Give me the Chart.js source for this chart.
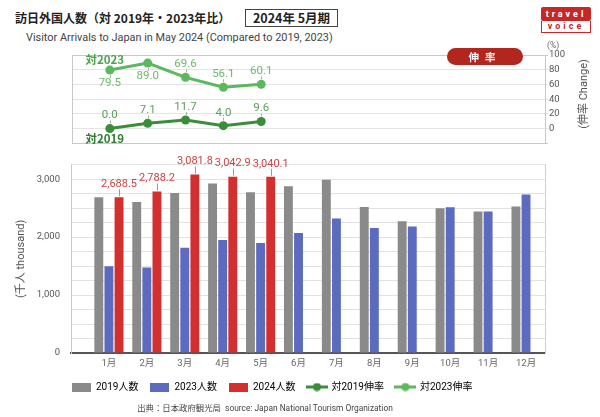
<!DOCTYPE html>
<html lang="ja">
<head>
<meta charset="utf-8">
<script src="https://cdn.jsdelivr.net/npm/chart.js@4.4.1/dist/chart.umd.min.js"></script>
<style>
    body { margin: 0; width: 600px; height: 417px; position: relative; background: #fff; overflow: hidden; font-family: Roboto, "Noto Sans CJK JP", sans-serif; }
    canvas { position: absolute; left: 0; }
    #titulo { position: absolute; left: 15px; top: 9px; font: bold 12px "Noto Sans CJK JP", sans-serif; color: #222; white-space: nowrap; }
    #periodo { position: absolute; left: 245px; top: 9px; width: 91px; height: 16px; border: 1.5px solid #444; font: bold 12.5px "Noto Sans CJK JP", sans-serif; line-height: 16px; text-align: center; color: #222; }
    #subtitulo { position: absolute; left: 26px; top: 31px; font-size: 10.9px; color: #444; white-space: nowrap; }
    #logo { position: absolute; left: 541px; top: 7px; width: 50px; }
    #logo .travel { height: 14px; background: #c62828; color: #fff; font: bold 9px Roboto, sans-serif; letter-spacing: 3px; line-height: 14px; text-align: center; border-radius: 2px; }
    #logo .voice { height: 11px; border: 1.5px solid #c62828; border-top: none; color: #c62828; font: bold 9px Roboto, sans-serif; letter-spacing: 3px; line-height: 11px; text-align: center; }
    #pct { position: absolute; left: 547px; top: 40px; font-size: 8.5px; color: #666; }
    #eixoTaxa { position: absolute; left: 582px; top: 94px; transform: translate(-50%, -50%) rotate(-90deg); font-size: 11px; color: #555; white-space: nowrap; }
    #selo { position: absolute; left: 447px; top: 48px; width: 76px; height: 17px; border-radius: 9px; background: #b3261e; color: #fff; font: bold 10.5px "Noto Sans CJK JP", sans-serif; line-height: 17px; text-align: center; letter-spacing: 6px; }
    #fonte { position: absolute; left: 0; width: 530px; top: 401px; text-align: center; font-size: 8.4px; color: #444; white-space: nowrap; }
</style>
</head>
<body>
<div id="titulo">訪日外国人数（対 2019年・2023年比）</div>
<div id="periodo">2024年 5月期</div>
<div id="subtitulo">Visitor Arrivals to Japan in May 2024 (Compared to 2019, 2023)</div>
<div id="logo"><div class="travel">travel</div><div class="voice">voice</div></div>

<canvas id="taxas" width="600" height="110" style="top:40px"></canvas>
<canvas id="visitantes" width="600" height="269" style="top:148px"></canvas>

<div id="pct">(%)</div>
<div id="eixoTaxa">(伸率 Change)</div>
<div id="selo">伸率</div>
<div id="fonte">出典：日本政府観光局&nbsp;&nbsp;source: Japan National Tourism Organization</div>

<script>
const months = ["1月", "2月", "3月", "4月", "5月", "6月", "7月", "8月", "9月", "10月", "11月", "12月"];
const visitors2019 = [2689.3, 2604.3, 2760.1, 2926.7, 2773.1, 2880.0, 2991.2, 2520.1, 2272.9, 2496.6, 2441.3, 2526.4];
const visitors2023 = [1497.5, 1475.5, 1817.6, 1949.2, 1899.2, 2073.3, 2320.6, 2159.6, 2181.3, 2516.5, 2441.3, 2734.0];
const visitors2024 = [2688.5, 2788.2, 3081.8, 3042.9, 3040.1];
const changeVs2019 = [0.0, 7.1, 11.7, 4.0, 9.6];
const changeVs2023 = [79.5, 89.0, 69.6, 56.1, 60.1];
const countTicks = [0, 1000, 2000, 3000];
const rateTicks = [0, 20, 40, 60, 80, 100];

const corCinza = "#8a8a8a";
const corAzul = "#5c6bc0";
const corVermelho = "#d32f2f";
const corVerdeEscuro = "#3a8e3a";
const corVerdeClaro = "#5cb85c";
const fonte = 'Roboto, "Noto Sans CJK JP", sans-serif';

// label placement for the 2023 line (true = under the point)
const below2023 = [true, true, false, false, false];

window.onload = aoCarregarPagina;

function aoCarregarPagina() {
    criarGraficoDeTaxas();
    criarGraficoDeVisitantes();
}

function pontos(valores) {
    return valores.map((v, i) => ({ x: i + 1, y: v }));
}

function iconeLegenda(cor, linha) {
    const c = document.createElement("canvas");
    c.width = linha ? 22 : 19;
    c.height = 9;
    const ctx = c.getContext("2d");
    ctx.fillStyle = cor;
    if (linha) {
        ctx.fillRect(0, 3, 22, 3);
        ctx.beginPath();
        ctx.arc(11, 4.5, 4, 0, Math.PI * 2);
        ctx.fill();
    } else {
        ctx.fillRect(0, 0, 19, 9);
    }
    return c;
}

const rotulosDeLinha = {
    id: "rotulosDeLinha",
    afterDatasetsDraw(chart) {
        const ctx = chart.ctx;
        ctx.save();
        ctx.textAlign = "center";
        ctx.textBaseline = "middle";
        chart.data.datasets.forEach((ds, d) => {
            const meta = chart.getDatasetMeta(d);
            meta.data.forEach((pt, i) => {
                const dir = ds.below[i] ? 1 : -1;
                ctx.strokeStyle = "#aaa";
                ctx.lineWidth = 1;
                ctx.beginPath();
                ctx.moveTo(Math.round(pt.x) + 0.5, pt.y + dir * 5);
                ctx.lineTo(Math.round(pt.x) + 0.5, pt.y + dir * 8);
                ctx.stroke();
                ctx.font = "11.5px " + fonte;
                ctx.fillStyle = ds.corRotulo;
                ctx.fillText(ds.valores[i].toFixed(1), pt.x, pt.y + dir * 13);
            });
            const p0 = meta.data[0];
            ctx.font = 'bold 11.5px "Noto Sans CJK JP", sans-serif';
            ctx.fillStyle = ds.corNome;
            ctx.fillText(ds.nome, p0.x - 5, p0.y + ds.nomeDy);
        });
        ctx.restore();
    }
};

const rotulosDeBarra = {
    id: "rotulosDeBarra",
    afterDatasetsDraw(chart) {
        const ctx = chart.ctx;
        const meta = chart.getDatasetMeta(2);
        ctx.save();
        ctx.textAlign = "center";
        ctx.textBaseline = "middle";
        ctx.font = "11px " + fonte;
        meta.data.forEach((bar, i) => {
            ctx.strokeStyle = "#999";
            ctx.lineWidth = 1;
            ctx.beginPath();
            ctx.moveTo(Math.round(bar.x) + 0.5, bar.y - 1);
            ctx.lineTo(Math.round(bar.x) + 0.5, bar.y - 8);
            ctx.stroke();
            ctx.fillStyle = "#c94444";
            ctx.fillText(visitors2024[i].toLocaleString("en-US", { minimumFractionDigits: 1 }), bar.x, bar.y - 13);
        });
        ctx.restore();
    }
};

const legendaAEsquerda = {
    id: "legendaAEsquerda",
    afterLayout(chart) {
        chart.legend.left = chart.chartArea.left - 11;
    }
};

function criarGraficoDeTaxas() {
    const ctx = document.querySelector("#taxas");
    return new Chart(ctx, {
        type: "line",
        data: {
            datasets: [
                {
                    label: "対2019伸率",
                    data: pontos(changeVs2019),
                    valores: changeVs2019,
                    below: changeVs2019.map(() => false),
                    corRotulo: "#5a9f5a",
                    nome: "対2019",
                    corNome: "#2e7d32",
                    nomeDy: 10,
                    borderColor: corVerdeEscuro,
                    backgroundColor: corVerdeEscuro,
                    borderWidth: 3,
                    pointRadius: 4.5,
                    pointBorderWidth: 0
                },
                {
                    label: "対2023伸率",
                    data: pontos(changeVs2023),
                    valores: changeVs2023,
                    below: below2023,
                    corRotulo: "#6cb96c",
                    nome: "対2023",
                    corNome: "#4aa54a",
                    nomeDy: -10,
                    borderColor: corVerdeClaro,
                    backgroundColor: corVerdeClaro,
                    borderWidth: 3,
                    pointRadius: 4.5,
                    pointBorderWidth: 0
                }
            ]
        },
        options: {
            responsive: false,
            animation: false,
            layout: { padding: { left: 72, right: 35, top: 15, bottom: 4 } },
            plugins: { legend: { display: false }, tooltip: { enabled: false } },
            scales: {
                x: { type: "linear", min: 0, max: 12.5, offset: false, display: false },
                y: {
                    type: "linear",
                    position: "right",
                    min: -20,
                    max: 100,
                    afterFit(scale) { scale.width = 20; },
                    ticks: {
                        stepSize: 20,
                        padding: 1,
                        color: "#555",
                        font: { family: fonte, size: 9.5 },
                        callback: v => rateTicks.includes(v) ? v : ""
                    },
                    grid: {
                        tickLength: 3,
                        color: c => (c.tick && (c.tick.value === -20 || c.tick.value === 100)) ? "#c8c8c8" : "#e4e4e4"
                    },
                    border: { color: "#c8c8c8" }
                },
                esq: {
                    type: "linear",
                    position: "left",
                    afterFit(scale) { scale.width = 0; },
                    ticks: { display: false },
                    grid: { drawOnChartArea: false, drawTicks: false },
                    border: { color: "#c8c8c8" }
                }
            }
        },
        plugins: [rotulosDeLinha]
    });
}

function criarGraficoDeVisitantes() {
    const ctx = document.querySelector("#visitantes");
    const itensLegenda = [
        { text: "2019人数", pointStyle: iconeLegenda(corCinza, false) },
        { text: "2023人数", pointStyle: iconeLegenda(corAzul, false) },
        { text: "2024人数", pointStyle: iconeLegenda(corVermelho, false) },
        { text: "対2019伸率", pointStyle: iconeLegenda(corVerdeEscuro, true) },
        { text: "対2023伸率", pointStyle: iconeLegenda(corVerdeClaro, true) }
    ];

    return new Chart(ctx, {
        type: "bar",
        data: {
            datasets: [
                { label: "2019人数", data: pontos(visitors2019), backgroundColor: corCinza },
                { label: "2023人数", data: pontos(visitors2023), backgroundColor: corAzul },
                { label: "2024人数", data: pontos(visitors2024), backgroundColor: corVermelho }
            ]
        },
        options: {
            responsive: false,
            animation: false,
            layout: { padding: { left: 0, right: 55, top: 12, bottom: 15 } },
            datasets: { bar: { categoryPercentage: 0.8, barPercentage: 0.88, borderWidth: 0 } },
            plugins: {
                tooltip: { enabled: false },
                legend: {
                    position: "bottom",
                    align: "start",
                    fullSize: false,
                    labels: {
                        usePointStyle: true,
                        pointStyleWidth: 19,
                        boxHeight: 9,
                        padding: 12,
                        color: "#333",
                        font: { family: fonte, size: 10 },
                        generateLabels: () => itensLegenda.map((item, i) => ({
                            text: item.text,
                            pointStyle: item.pointStyle,
                            fillStyle: "transparent",
                            strokeStyle: "transparent",
                            lineWidth: 0,
                            hidden: false,
                            datasetIndex: i
                        }))
                    }
                }
            },
            scales: {
                x: {
                    type: "linear",
                    min: 0,
                    max: 12.5,
                    offset: false,
                    afterBuildTicks(scale) {
                        scale.ticks = months.map((m, i) => ({ value: i + 1 }));
                    },
                    afterFit(scale) { scale.height = 17; },
                    ticks: {
                        padding: -3,
                        maxRotation: 0,
                        autoSkip: false,
                        color: "#666",
                        font: { family: fonte, size: 9.5 },
                        callback: v => months[v - 1]
                    },
                    grid: { display: false },
                    border: { color: "#555", width: 2 }
                },
                y: {
                    type: "linear",
                    min: 0,
                    max: 3250,
                    afterFit(scale) { scale.width = 71; },
                    ticks: {
                        stepSize: 250,
                        padding: 11,
                        color: "#555",
                        font: { family: fonte, size: 9.5 },
                        callback: v => countTicks.includes(v) ? v.toLocaleString("en-US") : ""
                    },
                    grid: { color: "#e2e2e2", drawTicks: false },
                    border: { color: "#c8c8c8" },
                    title: {
                        display: true,
                        text: "(千人 thousand)",
                        color: "#555",
                        font: { family: fonte, size: 11 },
                        padding: { top: 15, bottom: 0 }
                    }
                },
                dir: {
                    type: "linear",
                    position: "right",
                    afterFit(scale) { scale.width = 0; },
                    ticks: { display: false },
                    grid: { drawOnChartArea: false, drawTicks: false },
                    border: { color: "#d0d0d0" }
                }
            }
        },
        plugins: [rotulosDeBarra, legendaAEsquerda]
    });
}
</script>
</body>
</html>
